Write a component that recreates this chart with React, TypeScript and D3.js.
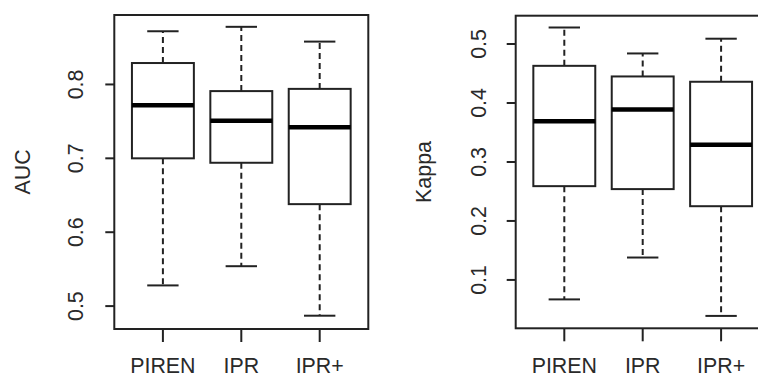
import React from "react";
import * as d3 from "d3";

const categories = ["PIREN", "IPR", "IPR+"];
// five-number summaries: [lowerWhisker, q1, median, q3, upperWhisker]
const aucStats = [
  [0.528, 0.7, 0.772, 0.829, 0.872],
  [0.554, 0.694, 0.751, 0.791, 0.878],
  [0.487, 0.638, 0.742, 0.794, 0.858],
];
const kappaStats = [
  [0.067, 0.259, 0.369, 0.463, 0.528],
  [0.138, 0.254, 0.389, 0.445, 0.484],
  [0.039, 0.225, 0.329, 0.436, 0.509],
];
const aucTicks = [0.5, 0.6, 0.7, 0.8];
const kappaTicks = [0.1, 0.2, 0.3, 0.4, 0.5];

const INK = "#222";
const TEXT = "#2a2a2a";
const FONT = "'Liberation Sans', Arial, sans-serif";
const FS = 23;
const SQUEEZE = 0.93;

type PanelProps = {
  stats: number[][];
  ticks: number[];
  yDomain: [number, number];
  xRange: [number, number];
  yRange: [number, number];
  label: string;
  tickLabelX: number;
  axisLabelX: number;
};

function Panel({ stats, ticks, yDomain, xRange, yRange, label, tickLabelX, axisLabelX }: PanelProps) {
  const x = d3.scaleLinear().domain([0.38, 3.62]).range(xRange);
  const y = d3.scaleLinear().domain(yDomain).range(yRange);
  const unit = x(2) - x(1);
  const boxHalf = unit * 0.395;
  const capHalf = unit * 0.2;
  const [x0, x1] = xRange;
  const [yb, yt] = yRange;
  const midY = (yb + yt) / 2;
  return (
    <g>
      {stats.map((s, i) => {
        const cx = x(i + 1);
        const [lo, q1, med, q3, hi] = s;
        return (
          <g key={i}>
            <line x1={cx} x2={cx} y1={y(q3)} y2={y(hi)} stroke={INK} strokeWidth={2} strokeDasharray="6,4" />
            <line x1={cx} x2={cx} y1={y(q1)} y2={y(lo)} stroke={INK} strokeWidth={2} strokeDasharray="6,4" />
            <line x1={cx - capHalf} x2={cx + capHalf} y1={y(hi)} y2={y(hi)} stroke={INK} strokeWidth={2} />
            <line x1={cx - capHalf} x2={cx + capHalf} y1={y(lo)} y2={y(lo)} stroke={INK} strokeWidth={2} />
            <rect x={cx - boxHalf} y={y(q3)} width={boxHalf * 2} height={y(q1) - y(q3)} fill="white" stroke={INK} strokeWidth={2} />
            <line x1={cx - boxHalf} x2={cx + boxHalf} y1={y(med)} y2={y(med)} stroke="#000" strokeWidth={4.5} />
            <line x1={cx} x2={cx} y1={yb} y2={yb + 13} stroke={INK} strokeWidth={2} />
            <text
              transform={`translate(${cx},373) scale(${SQUEEZE},1)`}
              textAnchor="middle"
              fontSize={FS}
              fontFamily={FONT}
              fill={TEXT}
            >
              {categories[i]}
            </text>
          </g>
        );
      })}
      <rect x={x0} y={yt} width={x1 - x0} height={yb - yt} fill="none" stroke={INK} strokeWidth={2} />
      {ticks.map((t) => (
        <g key={t}>
          <line x1={x0 - 9} x2={x0} y1={y(t)} y2={y(t)} stroke={INK} strokeWidth={2} />
          <text
            transform={`translate(${tickLabelX},${y(t)}) rotate(-90) scale(${SQUEEZE},1)`}
            textAnchor="middle"
            fontSize={FS}
            fontFamily={FONT}
            fill={TEXT}
          >
            {String(t)}
          </text>
        </g>
      ))}
      <text
        transform={`translate(${axisLabelX},${midY}) rotate(-90) scale(${SQUEEZE},1)`}
        textAnchor="middle"
        fontSize={FS}
        fontFamily={FONT}
        fill={TEXT}
      >
        {label}
      </text>
    </g>
  );
}

export default function App() {
  return (
    <svg
      width={758}
      height={378}
      style={{ position: "absolute", left: 0, top: 0, background: "white" }}
    >
      <rect width={758} height={378} fill="white" />
      <Panel
        stats={aucStats}
        ticks={aucTicks}
        yDomain={[0.469, 0.894]}
        xRange={[114.3, 368.3]}
        yRange={[329, 15]}
        label="AUC"
        tickLabelX={83.3}
        axisLabelX={30}
      />
      <Panel
        stats={kappaStats}
        ticks={kappaTicks}
        yDomain={[0.018, 0.548]}
        xRange={[515.7, 769.7]}
        yRange={[328.3, 15.7]}
        label="Kappa"
        tickLabelX={486}
        axisLabelX={431}
      />
    </svg>
  );
}
